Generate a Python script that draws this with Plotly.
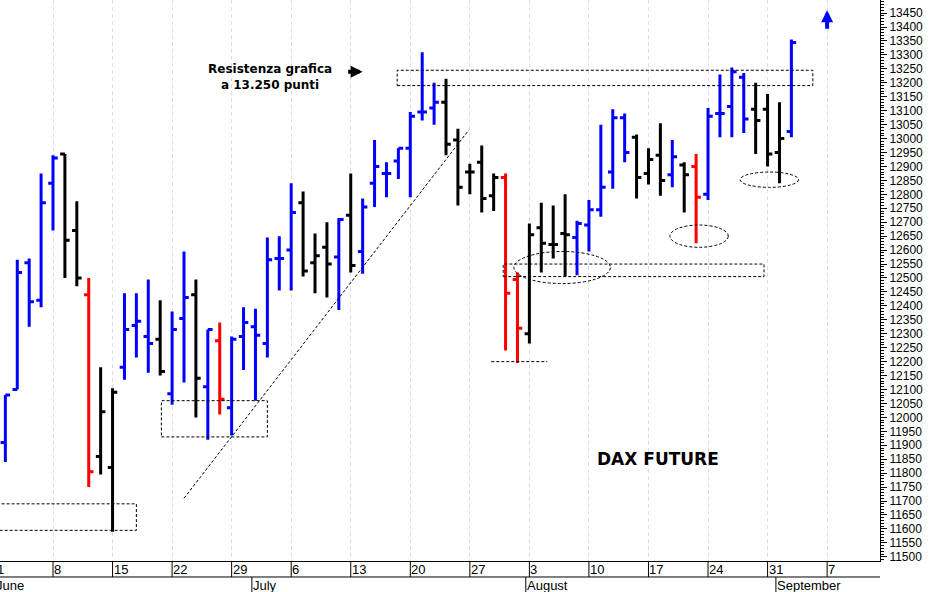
import plotly.graph_objects as go

# trading-day index: 0 = Mon 1 June 2020
days = list(range(1, 68))
opens = [11910, 12100, 12555, 12420, 12840, 12945, 12670, 12440, 11860, 11820,
         12180, 12330, 12290, 12280, 12085, 12355, 12440, 12110, 12275, 12035,
         12290, 12325, 12265, 12570, 12600, 12770, 12555, 12610, 12575, 12725,
         12595, 12840, 12875, 12920, 12965, 13095, 13110, 13130, 12995, 12880,
         12915, 12795, 12860, 12495, 12300, 12680, 12620, 12660, 12645, 12690,
         12745, 12880, 13075, 13005, 12875, 12940, 12870, 12905, 12900, 12800,
         13090, 13115, 13220, 13105, 13105, 12950, 13025]
highs = [12080, 12565, 12570, 12875, 12940, 12945, 12775, 12500, 12180, 12105,
         12445, 12445, 12495, 12420, 12380, 12595, 12495, 12315, 12340, 12290,
         12395, 12390, 12645, 12650, 12840, 12810, 12660, 12700, 12715, 12875,
         12785, 12995, 12915, 12965, 13095, 13310, 13200, 13215, 13035, 12910,
         12975, 12875, 12875, 12520, 12695, 12770, 12760, 12800, 12705, 12780,
         13050, 13105, 13090, 13015, 12965, 13055, 12995, 12915, 12945, 13110,
         13230, 13255, 13235, 13200, 13160, 13130, 13355]
lows = [11840, 12100, 12325, 12395, 12670, 12500, 12470, 11750, 11795, 11590,
        12135, 12215, 12160, 12150, 12045, 12125, 12000, 11920, 12010, 11935,
        12170, 12060, 12215, 12455, 12455, 12505, 12445, 12430, 12385, 12520,
        12515, 12755, 12790, 12855, 12790, 13065, 13050, 12940, 12760, 12800,
        12735, 12740, 12240, 12195, 12265, 12520, 12570, 12505, 12510, 12595,
        12720, 12820, 12915, 12785, 12835, 12795, 12825, 12735, 12625, 12780,
        13005, 13005, 13020, 12945, 12900, 12840, 13005]
closes = [12080, 12520, 12415, 12770, 12930, 12635, 12500, 11805, 12020, 12090,
          12315, 12345, 12265, 12165, 12315, 12430, 12140, 12315, 12065, 12280,
          12340, 12295, 12565, 12570, 12735, 12525, 12580, 12550, 12710, 12545,
          12755, 12900, 12875, 12965, 13080, 13095, 13130, 12980, 12825, 12880,
          12785, 12860, 12445, 12320, 12655, 12625, 12620, 12655, 12695, 12745,
          12825, 13075, 12950, 12860, 12925, 12850, 12935, 12870, 12790, 13080,
          13090, 13240, 13070, 13065, 12945, 13000, 13345]
bar_colors = list("bbbbbkkrkkbbbkbbkbrbbbbbbkkkbkbbbbbbbkkkkkrrkkkkbbbbbkkkbkrbbbbkkkb")

monday_idx = [0, 5, 10, 15, 20, 25, 30, 35, 40, 45, 50, 55, 60, 65, 70]
monday_lbl = ["1", "8", "15", "22", "29", "6", "13", "20", "27", "3", "10", "17", "24", "31", "7"]
month_idx = [0, 22, 45, 66]
month_lbl = ["June", "July", "August", "September"]

palette = {"b": "#0000ff", "k": "#000000", "r": "#ff0000"}

fig = go.Figure()
for key, col in palette.items():
    sel = [i for i, c in enumerate(bar_colors) if c == key]
    fig.add_trace(go.Ohlc(
        x=[days[i] for i in sel], open=[opens[i] for i in sel], high=[highs[i] for i in sel],
        low=[lows[i] for i in sel], close=[closes[i] for i in sel],
        increasing=dict(line=dict(color=col, width=3)),
        decreasing=dict(line=dict(color=col, width=3)),
        tickwidth=0.4, hoverinfo="skip", showlegend=False,
    ))

dash = dict(color="black", width=1, dash="3px,2px")
# dashed boxes, ellipses and trend line
fig.add_shape(type="rect", x0=-2, x1=12.0, y0=11595, y1=11690, line=dash)
fig.add_shape(type="rect", x0=14.1, x1=23.0, y0=11930, y1=12060, line=dash)
fig.add_shape(type="rect", x0=33.9, x1=68.8, y0=13190, y1=13245, line=dash)
fig.add_shape(type="rect", x0=42.8, x1=64.7, y0=12505, y1=12550, line=dash)
fig.add_shape(type="line", x0=16.0, x1=39.9, y0=11710, y1=13030, line=dash)
fig.add_shape(type="line", x0=41.8, x1=46.5, y0=12200, y1=12200, line=dash)
fig.add_shape(type="circle", x0=43.7, x1=51.8, y0=12480, y1=12595, line=dash)
fig.add_shape(type="circle", x0=56.8, x1=61.7, y0=12610, y1=12690, line=dash)
fig.add_shape(type="circle", x0=62.7, x1=67.6, y0=12825, y1=12880, line=dash)

# bottom date strip
fig.add_shape(type="line", xref="paper", yref="paper", x0=0, x1=1, y0=-0.0285, y1=-0.0285,
              line=dict(color="black", width=1))
for i, lbl in zip(monday_idx, monday_lbl):
    if i > 0:
        fig.add_shape(type="line", x0=i, x1=i, yref="paper", y0=0, y1=-0.0285,
                      line=dict(color="black", width=1))
        fig.add_annotation(x=i, y=0.002, yref="paper", text=lbl, showarrow=False,
                           xanchor="left", yanchor="top", xshift=-1, font=dict(size=13, color="black"))
    else:
        fig.add_annotation(x=0, xref="paper", y=0.002, yref="paper", text=lbl, showarrow=False,
                           xanchor="left", yanchor="top", xshift=-5, font=dict(size=13, color="black"))
for i, lbl in zip(month_idx, month_lbl):
    if i > 0:
        fig.add_shape(type="line", x0=i - 0.3, x1=i - 0.3, yref="paper", y0=-0.0285, y1=-0.06,
                      line=dict(color="black", width=1))
        fig.add_annotation(x=i - 0.3, y=-0.026, yref="paper", text=lbl, showarrow=False,
                           xanchor="left", yanchor="top", xshift=-1, font=dict(size=13, color="black"))
    else:
        fig.add_annotation(x=0, xref="paper", y=-0.026, yref="paper", text=lbl, showarrow=False,
                           xanchor="left", yanchor="top", xshift=-6, font=dict(size=13, color="black"))

fig.add_annotation(x=23.2, y=13220, text="<b>Resistenza grafica<br>a 13.250 punti</b>",
                   showarrow=False, font=dict(family="DejaVu Sans", size=12, color="black"))
fig.add_annotation(x=31.0, y=13240, ax=-16, ay=0,
                   text="", showarrow=True, arrowhead=2, arrowsize=0.6, arrowwidth=4, arrowcolor="black")
fig.add_annotation(x=70.0, y=13460, ax=0, ay=20,
                   text="", showarrow=True, arrowhead=2, arrowsize=0.6, arrowwidth=4, arrowcolor="#0000ff")
fig.add_annotation(x=55.8, y=11850, text="<b>DAX FUTURE</b>", showarrow=False,
                   font=dict(family="DejaVu Sans", size=17, color="black"))

fig.update_layout(
    width=929, height=592, margin=dict(l=0, r=49, t=0, b=31),
    paper_bgcolor="white", plot_bgcolor="white", showlegend=False,
    font=dict(family="Liberation Sans, Arial", size=12, color="black"),
    xaxis=dict(range=[0.55, 74.44], tickvals=monday_idx, showticklabels=False, automargin=False,
               showgrid=True, gridcolor="#dcdcf0", griddash="4px,3px", gridwidth=1,
               zeroline=False, rangeslider=dict(visible=False),
               showline=True, linecolor="black", mirror=True, ticks=""),
    yaxis=dict(range=[11485, 13497], side="right", dtick=50, tick0=11500, automargin=False,
               tickformat="d", showgrid=False, zeroline=False, showline=True, linecolor="black",
               ticks="outside", ticklen=6, tickcolor="black",
               minor=dict(dtick=10, ticks="outside", ticklen=3, tickcolor="black"),
               tickfont=dict(size=12)),
)

fig.write_html("out.html", config={"displayModeBar": False},
               post_script="document.body.style.margin='0';")
